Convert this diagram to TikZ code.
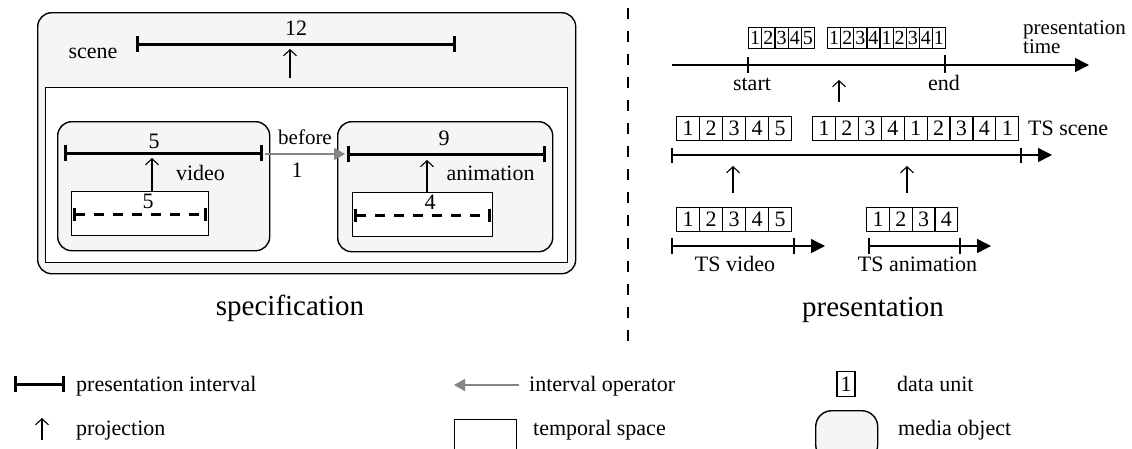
\documentclass[tikz,border=0pt]{standalone}
\usepackage{fontspec}
\setmainfont{Liberation Serif}
\usetikzlibrary{arrows.meta}
\definecolor{mofill}{HTML}{F5F5F5}
\definecolor{opgray}{HTML}{858585}
\begin{document}
\begin{tikzpicture}[x=1pt,y=-1pt,
  lbl/.style={font=\fontsize{22}{24}\selectfont, inner sep=0pt, anchor=base},
  lblw/.style={lbl, anchor=base west},
  big/.style={font=\fontsize{29}{32}\selectfont, inner sep=0pt, anchor=base},
  mobj/.style={draw, line width=1.4pt, fill=mofill, rounded corners=14pt, inner sep=0pt, anchor=north west},
  tspace/.style={draw, line width=1.4pt, fill=white, inner sep=0pt, anchor=north west},
  ival/.style={line width=3pt, {Bar[width=16pt]}-{Bar[width=16pt]}},
  dival/.style={line width=3pt, dash pattern=on 10pt off 9pt, {Bar[width=13pt]}-{Bar[width=13pt]}},
  proj/.style={line width=1.1pt, -{Straight Barb[length=6pt,width=13pt]}},
  iop/.style={line width=1.4pt, draw=opgray, -{Triangle[length=11pt,width=12pt,fill=opgray]}},
  taxis/.style={line width=1.4pt, -{Triangle[length=14pt,width=14pt]}},
  tick/.style={line width=1.4pt},
  du/.style={draw, line width=1.1pt, inner sep=0pt, minimum width=23pt, minimum height=24pt, anchor=north west, font=\fontsize{22}{22}\selectfont},
  dus/.style={du, minimum width=13.2pt, minimum height=21pt, font=\fontsize{20}{20}\selectfont},
  divider/.style={line width=1.2pt, dash pattern=on 11pt off 12pt}
]
\clip (0,0) rectangle (1132,448);
\useasboundingbox (0,0) rectangle (1132,448);

% ---------------- specification ----------------
\node[mobj, minimum width=538pt, minimum height=261pt] (scenebox) at (37,12) {};
\node[lbl] (scenelbl) at (93,58) {scene};
\coordinate (sciA) at (136,44); \coordinate (sciB) at (456,44);
\draw[ival] (sciA) -- (sciB);
\node[lbl] (sc12) at (296,35.5) {12};
\node[tspace, minimum width=522pt, minimum height=175pt] (scenets) at (45,87) {};
\coordinate (scp0) at (290,78); \coordinate (scp1) at (290,49);
\draw[proj] (scp0) -- (scp1);

% video
\node[mobj, minimum width=212pt, minimum height=129pt] (videobox) at (57,121) {};
\coordinate (viA) at (64,153); \coordinate (viB) at (263,153);
\draw[ival] (viA) -- (viB);
\node[lbl] (vi5) at (154,148.5) {5};
\node[tspace, minimum width=137pt, minimum height=44pt] (videots) at (71,191) {};
\coordinate (vdA) at (73,214); \coordinate (vdB) at (207,214);
\draw[dival] (vdA) -- (vdB);
\node[lbl] (vd5) at (148,208.5) {5};
\node[lbl] (videolbl) at (200.5,180) {video};
\coordinate (vp1) at (152,158);
\draw[proj] (videots.north -| vp1) -- (vp1);

% animation
\node[mobj, minimum width=215pt, minimum height=130pt] (animbox) at (337,121) {};
\coordinate (anA) at (347,154); \coordinate (anB) at (546,154);
\draw[ival] (anA) -- (anB);
\node[lbl] (an9) at (444,145) {9};
\node[tspace, minimum width=140pt, minimum height=44pt] (animts) at (352,192) {};
\coordinate (adA) at (354,215); \coordinate (adB) at (491,215);
\draw[dival] (adA) -- (adB);
\node[lbl] (ad4) at (430,209.5) {4};
\node[lbl] (animlbl) at (490.5,180) {animation};
\coordinate (ap1) at (427,160);
\draw[proj] (animts.north -| ap1) -- (ap1);

% interval operator
\coordinate (opA) at (265,154); \coordinate (opB) at (345,154);
\draw[iop] (opA) -- (opB);
\node[lbl, font=\fontsize{21}{22}\selectfont] (beforelbl) at (305,144) {before};
\node[lbl] (one) at (297,177) {1};

\node[big] (speclbl) at (290,315) {specification};

% divider
\coordinate (dvA) at (628,8); \coordinate (dvB) at (628,341);
\draw[divider] (dvA) -- (dvB);

% ---------------- presentation ----------------
\coordinate (ptA) at (672,65); \coordinate (ptB) at (1089,65);
\draw[taxis] (ptA) -- (ptB);
\coordinate (stA) at (748,57); \coordinate (stB) at (748,73);
\draw[tick] (stA) -- (stB);
\coordinate (enA) at (945,55); \coordinate (enB) at (945,73);
\draw[tick] (enA) -- (enB);
\node[lbl] (startlbl) at (752,90) {start};
\node[lbl] (endlbl) at (944,90) {end};
\node[font=\fontsize{21}{17}\selectfont, inner sep=0pt, align=left, anchor=north west] (ptlbl) at (1023,20) {presentation\\time};
\foreach \d [count=\i from 0] in {1,2,3,4,5}
  \node[dus] (pa\i) at ({748+13.2*\i},27) {\d};
\foreach \d [count=\i from 0] in {1,2,3,4,1,2,3,4,1}
  \node[dus] (pb\i) at ({827+13.1*\i},27) {\d};
\coordinate (pp0) at (839,102); \coordinate (pp1) at (839,80);
\draw[proj] (pp0) -- (pp1);

% TS scene
\foreach \d [count=\i from 0] in {1,2,3,4,5}
  \node[du] (sa\i) at ({676+23*\i},116) {\d};
\foreach \d [count=\i from 0] in {1,2,3,4,1,2,3,4,1}
  \node[du] (sb\i) at ({812+22.9*\i},116) {\d};
\node[lblw] (tsscene) at (1028,135) {TS scene};
\coordinate (tssA) at (672,155); \coordinate (tssB) at (1052,155);
\draw[taxis] (tssA) -- (tssB);
\draw[tick] (672,147.5) -- (672,162.5);
\coordinate (tssE0) at (1021,147.5); \coordinate (tssE1) at (1021,162.5);
\draw[tick] (tssE0) -- (tssE1);
\coordinate (sp0) at (733,193); \coordinate (sp1) at (733,166);
\draw[proj] (sp0) -- (sp1);
\coordinate (sq0) at (907,193); \coordinate (sq1) at (907,166);
\draw[proj] (sq0) -- (sq1);

% TS video
\foreach \d [count=\i from 0] in {1,2,3,4,5}
  \node[du] (va\i) at ({676+23*\i},207) {\d};
\coordinate (tsvA) at (672,246); \coordinate (tsvB) at (825,246);
\draw[taxis] (tsvA) -- (tsvB);
\draw[tick] (672,238) -- (672,254);
\coordinate (tsvE0) at (794,238); \coordinate (tsvE1) at (794,254);
\draw[tick] (tsvE0) -- (tsvE1);
\node[lbl] (tsvideo) at (735,271) {TS video};

% TS animation
\foreach \d [count=\i from 0] in {1,2,3,4}
  \node[du] (aa\i) at ({866+22.75*\i},207) {\d};
\coordinate (tsaA) at (869,246); \coordinate (tsaB) at (991,246);
\draw[taxis] (tsaA) -- (tsaB);
\draw[tick] (869,238) -- (869,254);
\coordinate (tsaE0) at (960,238); \coordinate (tsaE1) at (960,254);
\draw[tick] (tsaE0) -- (tsaE1);
\node[lbl] (tsanim) at (917.5,271) {TS animation};

\node[big] (preslbl) at (873,316) {presentation};

% ---------------- legend ----------------
\coordinate (lgiA) at (14,384); \coordinate (lgiB) at (65,384);
\draw[ival] (lgiA) -- (lgiB);
\node[lblw] (lgi) at (76,391) {presentation interval};
\coordinate (lgpA) at (42,440); \coordinate (lgpB) at (42,418);
\draw[proj] (lgpA) -- (lgpB);
\node[lblw] (lgp) at (76,435) {projection};

\coordinate (lgoA) at (519,385); \coordinate (lgoB) at (454,385);
\draw[iop] (lgoA) -- (lgoB);
\node[lblw] (lgo) at (529,391) {interval operator};
\node[tspace, minimum width=62pt, minimum height=40pt] (lgts) at (454,419) {};
\node[lblw] (lgt) at (533,435) {temporal space};

\node[du, anchor=center, minimum width=18pt, minimum height=25pt] (lgdu) at (846,384) {1};
\node[lblw] (lgd) at (897,391) {data unit};
\node[mobj, rounded corners=16pt, minimum width=62pt, minimum height=50pt] (lgmo) at (815,410) {};
\node[lblw] (lgm) at (898,435) {media object};
\end{tikzpicture}
\end{document}
